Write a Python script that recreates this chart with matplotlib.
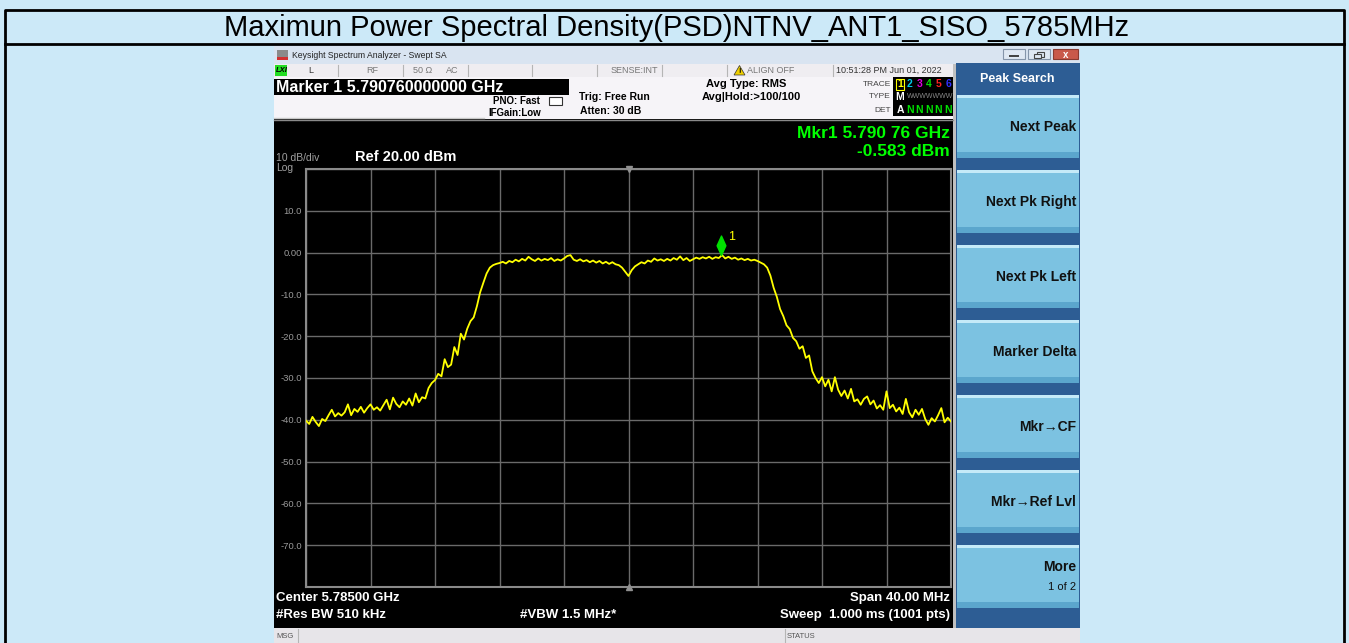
import numpy as np
import matplotlib.pyplot as plt
from matplotlib.patches import Rectangle, Polygon
from matplotlib.path import Path

plt.rcParams['font.family'] = ['Liberation Sans', 'DejaVu Sans']

# sweep settings shown on the analyzer
center_mhz = 5785.0
span_mhz = 40.0
ref_level = 20.0
db_per_div = 10.0

# trace, one value every 0.2 MHz (5765 -> 5805 MHz)
psd_dbm = [
    -40.2, -41.0, -39.3, -40.5, -41.5, -39.8, -40.3, -38.9, -37.6, -39.2,
    -38.4, -39.0, -38.2, -36.3, -38.9, -37.4, -38.1, -36.9, -38.3, -37.2,
    -36.3, -37.6, -37.0, -37.8, -36.5, -35.2, -37.5, -34.7, -36.2, -37.0,
    -35.6, -36.4, -34.9, -36.6, -33.7, -35.8, -34.6, -34.9, -32.4, -31.2,
    -30.5, -29.0, -29.6, -25.5, -27.4, -26.8, -22.6, -24.5, -19.4, -20.8,
    -18.2, -16.4, -15.5, -12.8, -9.5, -7.2, -5.0, -3.6, -3.0, -2.7,
    -2.5, -2.2, -2.6, -2.0, -2.3, -1.7, -2.1, -1.5, -1.9, -1.0,
    -1.6, -2.0, -1.4, -1.9, -1.5, -1.8, -1.3, -2.0, -1.6, -1.9,
    -1.4, -0.8, -0.6, -1.7, -2.0, -1.6, -2.1, -1.8, -2.3, -1.9,
    -2.4, -2.0, -2.6, -2.2, -2.7, -2.3, -2.8, -3.0, -3.6, -4.6,
    -5.6, -4.2, -3.3, -2.8, -2.3, -2.6, -1.9, -2.2, -1.4, -1.9,
    -1.6, -2.0, -1.5, -1.9, -1.3, -1.7, -0.9, -1.8, -1.3, -2.0,
    -1.6, -1.2, -1.5, -1.1, -1.4, -1.0, -1.5, -1.1, -1.3, -0.6,
    -1.4, -1.0, -1.5, -1.2, -1.7, -1.4, -1.8, -1.5, -1.9, -1.7,
    -2.0, -2.4, -2.8, -3.6, -5.5, -8.4, -10.6, -13.5, -15.2, -17.4,
    -18.3, -20.4, -21.2, -23.0, -22.4, -25.2, -24.6, -28.4, -30.0, -31.2,
    -29.8, -32.0, -30.4, -33.2, -29.8, -32.8, -34.3, -33.0, -34.9, -32.6,
    -35.6, -35.1, -36.4, -35.0, -34.4, -36.3, -35.4, -37.3, -36.5, -37.6,
    -33.2, -37.2, -36.4, -38.0, -37.1, -38.6, -35.0, -38.2, -39.4, -37.6,
    -38.8, -37.4, -39.8, -41.2, -39.6, -40.4, -38.9, -37.2, -40.6, -39.5,
    -40.4,
]

marker_mhz = 5790.76
marker_dbm = -0.583

ytick_text = ['-70.0', '-60.0', '-50.0', '-40.0', '-30.0', '-20.0', '-10.0', '0.00', '10.0']
softkeys = ['Next Peak', 'Next Pk Right', 'Next Pk Left', 'Marker Delta',
            'Mkr\u2192CF', 'Mkr\u2192Ref Lvl']
trace_nums = ['1', '2', '3', '4', '5', '6']
trace_cols = ['#ffff00', '#00c8e6', '#e000e0', '#00e000', '#ff2020', '#3030ff']

title = 'Maximun Power Spectral Density(PSD)NTNV_ANT1_SISO_5785MHz'

W, H = 1349, 643
fig = plt.figure(figsize=(W / 100, H / 100), dpi=100)
fig.patch.set_facecolor('#cce9f8')
bg = fig.add_axes([0, 0, 1, 1])
bg.set_xlim(0, W)
bg.set_ylim(H, 0)
bg.axis('off')


def box(x0, y0, x1, y1, fc, ec='none', lw=0):
    bg.add_patch(Rectangle((x0, y0), x1 - x0, y1 - y0, facecolor=fc, edgecolor=ec, linewidth=lw))


def txt(x, y, s, size=7, color='black', ha='left', weight='normal', **kw):
    bg.text(x, y, s, fontsize=size, color=color, ha=ha, va='center', fontweight=weight, **kw)


# outer table (no bottom edge visible in the crop)
bg.plot([5, 5, 1344, 1344], [645, 10, 10, 645], color='black', lw=2)
bg.plot([5, 1344], [44, 44], color='black', lw=2)
txt(677, 28, title, size=21, ha='center')

# window title bar
box(274, 46, 1080, 64, '#d9e4f1')
box(277, 50, 288, 60, '#8a8a8a')
box(277, 57, 288, 60, '#d23030')
txt(292, 55, 'Keysight Spectrum Analyzer - Swept SA', size=6.2, color='#222222')
box(1003, 49, 1025, 59, '#dfe8f3', ec='#8595aa', lw=0.8)
box(1028, 49, 1050, 59, '#dfe8f3', ec='#8595aa', lw=0.8)
box(1053, 49, 1078, 59, '#c9594a', ec='#8a3a30', lw=0.8)
box(1009, 55, 1019, 57, '#444444')
box(1037, 51.5, 1044, 56.5, 'none', ec='#444444', lw=0.8)
box(1034, 54, 1041, 58, '#dfe8f3', ec='#444444', lw=0.8)
txt(1065.5, 54.5, 'x', size=7, ha='center', color='white', weight='bold')

# status row
box(274, 64, 953, 77, '#efedf1')
for xs in [338, 403, 468, 532, 597, 662, 727, 833]:
    bg.plot([xs, xs], [65, 76], color='#b5b5b5', lw=0.8)
box(275, 65, 287, 76, '#22dd22')
txt(276, 70.5, 'LXI', size=5.5, weight='bold', style='italic')
txt(308, 70.5, 'L', size=6.5, color='#333333')
txt(366, 70.5, 'RF', size=6.5, color='#777777')
txt(413, 70.5, '50 \u03a9', size=6.5, color='#777777')
txt(446, 70.5, 'AC', size=6.5, color='#777777')
txt(658, 70.5, 'SENSE:INT', size=6.5, color='#777777', ha='right')
bg.add_patch(Polygon([[734, 75], [745, 75], [739.5, 65.5]], closed=True, facecolor='#f0d000', edgecolor='#333333', lw=0.5))
txt(739.5, 71.5, '!', size=5.5, ha='center', weight='bold')
txt(747, 70.5, 'ALIGN OFF', size=6.5, color='#777777')
txt(836, 70.5, '10:51:28 PM Jun 01, 2022', size=6.5, color='#333333')

# info area
box(274, 77, 953, 119, '#f6f4f8')
box(274, 79, 569, 95, 'black')
txt(276, 87, 'Marker 1 5.790760000000 GHz', size=11.5, color='white', weight='bold')
bg.plot([274, 484], [118, 118], color='#c8c8c8', lw=1)
txt(540, 101.5, 'PNO: Fast', size=7, weight='bold', ha='right')
txt(541, 113, 'IFGain:Low', size=7, weight='bold', ha='right')
bg.add_patch(Rectangle((549, 97), 13, 8, facecolor='white', edgecolor='#333333', lw=0.8))
txt(579, 97, 'Trig: Free Run', size=7.5, weight='bold')
txt(580, 111, 'Atten: 30 dB', size=7.5, weight='bold')
txt(706, 84, 'Avg Type: RMS', size=8, weight='bold')
txt(702, 97, 'Avg|Hold:>100/100', size=8, weight='bold')
txt(891, 84, 'TRACE', size=6, color='#444444', ha='right')
txt(891, 97, 'TYPE', size=6, color='#444444', ha='right')
txt(891, 110, 'DET', size=6, color='#444444', ha='right')
box(893, 77, 953, 116, 'black')
for k, (n, c) in enumerate(zip(trace_nums, trace_cols)):
    xn = 900 + 9.6 * k
    txt(xn, 84, n, size=7.5, color=c, ha='center', weight='bold')
    txt(xn, 110, 'A' if k == 0 else 'N', size=7.5, color='white' if k == 0 else '#00e000',
        ha='center', weight='bold')
bg.add_patch(Rectangle((896, 78.5), 8, 11, facecolor='none', edgecolor='#ffff00', lw=0.8))
txt(900, 97, 'M', size=7.5, color='white', ha='center', weight='bold')
txt(907, 97, 'WWWWWWW', size=5, color='#888888')

# display region
box(274, 119, 953, 628, 'black')
bg.plot([274, 953], [120, 120], color='#8a8a8a', lw=1)
box(953, 64, 956, 628, '#c0c0c0')
txt(950, 133, 'Mkr1 5.790 76 GHz', size=12.5, color='#00ff00', ha='right', weight='bold')
txt(950, 151, '-0.583 dBm', size=12.5, color='#00ff00', ha='right', weight='bold')
txt(276, 158, '10 dB/div', size=7.5, color='#a0a0a0')
txt(276, 168, 'Log', size=7.5, color='#a0a0a0')
txt(355, 157, 'Ref 20.00 dBm', size=10.5, color='white', weight='bold')
txt(276, 598, 'Center 5.78500 GHz', size=9.5, color='white', weight='bold')
txt(276, 615, '#Res BW 510 kHz', size=9.5, color='white', weight='bold')
txt(520, 615, '#VBW 1.5 MHz*', size=9.5, color='white', weight='bold')
txt(950, 598, 'Span 40.00 MHz', size=9.5, color='white', weight='bold', ha='right')
txt(950, 615, 'Sweep  1.000 ms (1001 pts)', size=9.5, color='white', weight='bold', ha='right')

# softkey panel
box(956, 63, 1080, 628, '#2d5d94')
txt(1017, 79, 'Peak Search', size=9, color='white', ha='center', weight='bold')
for k, label in enumerate(softkeys + ['More']):
    y0 = 95 + 75 * k
    y1 = y0 + 63
    box(957, y0, 1079, y1, '#7cc2e1')
    box(957, y0, 1079, y0 + 3, '#c5eaf8')
    box(957, y1 - 6, 1079, y1, '#5ba6cd')
    if label == 'More':
        txt(1076, y0 + 22, label, size=10, weight='bold', ha='right', color='#111111')
        txt(1076, y0 + 42, '1 of 2', size=8, ha='right', color='#111111')
    else:
        txt(1076, y0 + 32, label, size=10, weight='bold', ha='right', color='#111111')

# bottom message bar
box(274, 628, 1080, 643, '#e7e5e9')
bg.plot([298, 298], [629, 643], color='#b5b5b5', lw=0.8)
bg.plot([785, 785], [629, 643], color='#b5b5b5', lw=0.8)
txt(276, 636, 'MSG', size=5.5, color='#555555')
txt(787, 636, 'STATUS', size=5.5, color='#555555')

# graticule with the trace
ax = fig.add_axes([306 / W, 1 - 587 / H, 645 / W, 418 / H])
ax.set_facecolor('black')
f_lo = center_mhz - span_mhz / 2
f_hi = center_mhz + span_mhz / 2
freqs = np.linspace(f_lo, f_hi, len(psd_dbm))
ax.plot(freqs, psd_dbm, color='#ffff00', lw=1.3, zorder=3)
ax.set_xlim(f_lo, f_hi)
ax.set_ylim(ref_level - 10 * db_per_div, ref_level)
ax.set_xticks(np.linspace(f_lo, f_hi, 11))
ax.set_xticklabels([])
ax.set_yticks(np.arange(ref_level - 10 * db_per_div, ref_level + 1, db_per_div))
ax.set_yticklabels([''] + ytick_text + [''])
ax.tick_params(length=0, labelcolor='#9a9a9a', labelsize=6.8, pad=3)
ax.grid(color='#6a6a6a', lw=1)
for s in ax.spines.values():
    s.set_color('#8a8a8a')
    s.set_linewidth(1.5)

# marker 1 (diamond sits on top of the point)
diamond = Path([(0, 0), (0.45, 1), (0, 2), (-0.45, 1), (0, 0)],
               [Path.MOVETO, Path.LINETO, Path.LINETO, Path.LINETO, Path.CLOSEPOLY])
ax.plot([marker_mhz], [marker_dbm], marker=diamond, markersize=28, color='#00e000', zorder=4, lw=0)
ax.annotate('1', (marker_mhz, marker_dbm), xytext=(4.5, 11), textcoords='offset points',
            color='#ffff00', fontsize=9, zorder=5)
# center markers
ax.plot([center_mhz], [ref_level], marker='v', markersize=5, color='#909090', clip_on=False, zorder=4)
ax.plot([center_mhz], [ref_level - 10 * db_per_div], marker='^', markersize=5, color='#909090',
        clip_on=False, zorder=4)

fig.savefig('out.png', dpi=100)
